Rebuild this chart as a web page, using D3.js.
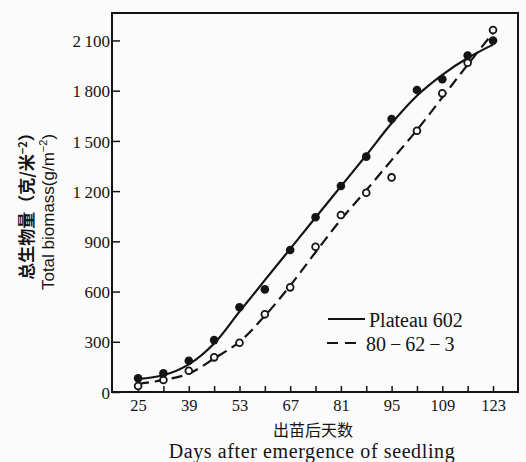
<!DOCTYPE html>
<html lang="zh-CN">
<head>
<meta charset="utf-8">
<script src="https://cdn.jsdelivr.net/npm/d3@7"></script>
<style>
  html, body { margin: 0; padding: 0; background: #fbfbfb; }
  svg { display: block; }
</style>
</head>
<body>
<svg id="chart" width="526" height="462"></svg>
<script>
// sampling days (every 7 days after emergence)
const days = [25, 32, 39, 46, 53, 60, 67, 74, 81, 88, 95, 102, 109, 116, 123];
const labelDays = [25, 39, 53, 67, 81, 95, 109, 123];
const yTicks = [0, 300, 600, 900, 1200, 1500, 1800, 2100];

// observed total biomass (g/m^2)
const plateauObs = [82, 112, 187, 310, 506, 613, 848, 1044, 1231, 1406, 1631, 1804, 1868, 2010, 2099];
const strainObs = [36, 72, 127, 207, 294, 464, 625, 868, 1057, 1190, 1282, 1561, 1784, 1967, 2162];

// fitted curves
const plateauFit = [78, 100, 165, 290, 480, 668, 855, 1042, 1228, 1414, 1605, 1770, 1895, 1995, 2075];
const strainFit = [48, 72, 110, 200, 300, 455, 635, 835, 1030, 1205, 1385, 1565, 1760, 1955, 2145];

const ink = '#141414';
const svg = d3.select('#chart');

const plot = { left: 112, right: 518, top: 13, bottom: 392 };

const x = d3.scaleLinear().domain([17.8, 129.9]).range([plot.left, plot.right]);
const y = d3.scaleLinear().domain([0, 2264]).range([plot.bottom, plot.top]);

// frame
svg.append('rect')
    .attr('x', plot.left).attr('y', plot.top)
    .attr('width', plot.right - plot.left).attr('height', plot.bottom - plot.top)
    .attr('fill', 'none')
    .attr('stroke', ink)
    .attr('stroke-width', 2);

const fmt = d => d >= 1000 ? String(d).replace(/^(\d)/, '$1\u2009') : String(d);

const xAxis = svg.append('g')
    .attr('transform', `translate(0,${plot.bottom})`)
    .call(d3.axisBottom(x)
        .tickValues(days)
        .tickSizeInner(-6)
        .tickSizeOuter(0)
        .tickFormat(d => labelDays.includes(d) ? d : ''));

xAxis.select('.domain').remove();
xAxis.selectAll('line').attr('stroke', ink).attr('stroke-width', 1.5);
xAxis.selectAll('text')
    .attr('y', 19)
    .attr('dy', 0)
    .attr('fill', ink)
    .style('font-family', '"Liberation Serif", serif')
    .style('font-size', '16.5px');

const yAxis = svg.append('g')
    .attr('transform', `translate(${plot.left},0)`)
    .call(d3.axisLeft(y)
        .tickValues(yTicks)
        .tickSizeInner(-8)
        .tickSizeOuter(0)
        .tickPadding(2)
        .tickFormat(fmt));

yAxis.select('.domain').remove();
yAxis.selectAll('line').attr('stroke', ink).attr('stroke-width', 1.5);
yAxis.selectAll('text')
    .attr('fill', ink)
    .attr('dy', '0.36em')
    .style('font-family', '"Liberation Serif", serif')
    .style('font-size', '17px');

// curves
const line = d3.line()
    .x((d, i) => x(days[i]))
    .y(d => y(d))
    .curve(d3.curveCatmullRom.alpha(0.5));

svg.append('path')
    .datum(plateauFit)
    .attr('d', line)
    .attr('fill', 'none')
    .attr('stroke', ink)
    .attr('stroke-width', 2.2);

svg.append('path')
    .datum(strainFit)
    .attr('d', line)
    .attr('fill', 'none')
    .attr('stroke', ink)
    .attr('stroke-width', 2.2)
    .attr('stroke-dasharray', '11,6');

// points
svg.append('g')
    .selectAll('circle')
    .data(strainObs)
    .enter().append('circle')
    .attr('cx', (d, i) => x(days[i]))
    .attr('cy', d => y(d))
    .attr('r', 3.4)
    .attr('fill', '#fbfbfb')
    .attr('stroke', ink)
    .attr('stroke-width', 1.8);

svg.append('g')
    .selectAll('circle')
    .data(plateauObs)
    .enter().append('circle')
    .attr('cx', (d, i) => x(days[i]))
    .attr('cy', d => y(d))
    .attr('r', 4.3)
    .attr('fill', ink);

// legend
const legend = svg.append('g');
legend.append('line')
    .attr('x1', 328).attr('x2', 365)
    .attr('y1', 319).attr('y2', 319)
    .attr('stroke', ink).attr('stroke-width', 2.2);
legend.append('line')
    .attr('x1', 327).attr('x2', 363)
    .attr('y1', 343).attr('y2', 343)
    .attr('stroke', ink).attr('stroke-width', 2.2)
    .attr('stroke-dasharray', '11,7');
legend.append('text')
    .attr('x', 369).attr('y', 327)
    .attr('fill', ink)
    .style('font-family', '"Liberation Serif", serif')
    .style('font-size', '20px')
    .text('Plateau 602');
legend.append('text')
    .attr('x', 366).attr('y', 351)
    .attr('fill', ink)
    .style('font-family', '"Liberation Serif", serif')
    .style('font-size', '20px')
    .text('80\u2009\u2212\u200962\u2009\u2212\u20093');

// axis titles
svg.append('text')
    .attr('x', 313).attr('y', 436)
    .attr('text-anchor', 'middle')
    .attr('fill', ink)
    .style('font-family', '"Noto Sans CJK SC", sans-serif')
    .style('font-size', '16px')
    .text('出苗后天数');

svg.append('text')
    .attr('x', 312).attr('y', 458)
    .attr('text-anchor', 'middle')
    .attr('fill', ink)
    .style('font-family', '"Liberation Serif", serif')
    .style('font-size', '20px')
    .style('letter-spacing', '0.6px')
    .text('Days after emergence of seedling');

const yTitle1 = svg.append('text')
    .attr('transform', 'translate(33,202) rotate(-90)')
    .attr('text-anchor', 'middle')
    .attr('fill', ink)
    .style('font-family', '"Noto Sans CJK SC", sans-serif')
    .style('font-weight', 700)
    .style('font-size', '17px');
yTitle1.append('tspan').text('总生物量（克/米');
yTitle1.append('tspan').attr('dy', -6).style('font-size', '11px').text('−2');
yTitle1.append('tspan').attr('dy', 6).text('）');

const yTitle2 = svg.append('text')
    .attr('transform', 'translate(54,212) rotate(-90)')
    .attr('text-anchor', 'middle')
    .attr('fill', ink)
    .style('font-family', '"Liberation Sans", sans-serif')
    .style('font-size', '17px');
yTitle2.append('tspan').text('Total biomass(g/m');
yTitle2.append('tspan').attr('dy', -7).style('font-size', '11px').text('−2');
yTitle2.append('tspan').attr('dy', 7).text(')');
</script>
</body>
</html>
